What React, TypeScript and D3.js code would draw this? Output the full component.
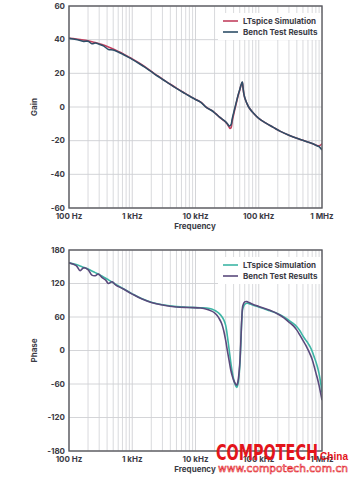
import React from "react";
import * as d3 from "d3";

// ---------- DATA ----------
const gainFreq = [100,130,170,200,230,260,300,350,420,500,600,700,850,1000,1300,1600,2000,2500,3000,4000,5000,6500,8000,10000,12000,15000,18000,21000,24000,27000,30000,32000,34000,35000,36500,38000,41000,44000,47000,50000,52000,54000,55000,56500,58000,60000,64500,70000,82000,100000,130000,170000,220000,300000,400000,500000,650000,800000,900000,1000000];
const gainLTspice = [40.8,40.4,39.8,39.3,38.8,38.3,37.6,36.8,35.6,34.4,33.0,31.8,30.0,28.6,26.0,23.8,21.2,18.6,16.6,13.5,11.2,8.6,6.6,4.6,3.0,-0.3,-2.0,-4.0,-6.0,-7.6,-9.0,-10.3,-12.0,-12.7,-12.3,-8.5,-2.8,2.0,6.5,10.0,12.3,14.0,14.5,11.0,8.0,5.5,2.4,-0.3,-3.6,-6.8,-9.6,-12.1,-14.5,-16.8,-18.6,-19.8,-21.3,-22.6,-23.1,-21.8];
const gainBench = [40.8,40.1,39.0,39.1,37.6,38.0,37.3,36.3,34.2,33.9,32.7,31.5,29.8,28.3,25.7,23.5,21.0,18.4,16.5,13.4,11.1,8.5,6.5,4.5,2.9,-0.4,-2.1,-4.1,-6.0,-7.5,-8.8,-10.0,-11.3,-11.2,-10.5,-7.2,-2.0,2.6,6.9,10.3,12.6,14.3,14.8,11.3,8.2,5.6,2.4,-0.3,-3.6,-6.8,-9.6,-12.1,-14.5,-16.8,-18.6,-19.8,-21.3,-22.7,-23.6,-25.5];

const phaseFreq = [100,130,150,170,200,230,260,290,330,380,420,480,550,700,1000,1400,2000,3000,5000,8000,12000,15000,18000,20000,22000,24000,26000,28000,30000,32000,34000,36000,38000,40000,42000,44000,45000,47000,50000,52000,54000,56000,60000,65000,70000,80000,100000,150000,200000,250000,300000,350000,400000,450000,500000,550000,600000,650000,700000,750000,800000,850000,900000,950000,1000000];
const phaseLTspice = [157,154,151.5,149,146,142.5,139.5,137,133.5,129.5,126.5,122.5,118.5,111.5,101.5,93,86.5,82,78.5,77.2,76.5,76,74.5,72,69,65.5,61,55,45,25,2,-20,-38,-51,-60,-65,-66,-60,-30,10,55,75,82.5,84.5,84,81.5,78,71,66,60,54,48.5,42.5,35,26,19,13,6.5,-1.5,-11,-20,-30,-42,-57,-75];
const phaseBench = [157,152,143,148,145,135,134,137,131,126,120,123,117,111,101,92.5,86,81.5,78,77,76,74,70.5,67.5,62.5,56,48,35,18,-1,-18,-34,-45,-53,-58,-61.5,-62,-55,-25,15,58,80,87,87.6,86,83,79,72,65.5,58.5,51,44.5,36.5,27,18,10,1.5,-7,-16,-28,-40,-51,-63,-76,-89];

const freqTicks = [100, 1000, 10000, 100000, 1000000];
const freqTickLabels = ["100 Hz", "1 kHz", "10 kHz", "100 kHz", "1 MHz"];
const gainTicks = [60, 40, 20, 0, -20, -40, -60];
const phaseTicks = [180, 120, 60, 0, -60, -120, -180];

const gainSeriesNames = ["LTspice Simulation", "Bench Test Results"];
const phaseSeriesNames = ["LTspice Simulation", "Bench Test Results"];

// ---------- STYLE ----------
const W = 356, H = 480;
const FONT = "Inter, 'Open Sans', sans-serif";
const TXT = "#3b3b45";
const GRID = "#cfd0d4";
const FRAME = "#5a5a60";

type PanelProps = {
  top: number; bottom: number; domain: [number, number]; ticks: number[];
  yLabel: string; freq: number[]; s1: number[]; s2: number[];
  c1: string; c2: string; names: string[]; legendY: number; legendBox: [number, number];
};

function Panel(p: PanelProps) {
  const left = 69, right = 322;
  const x = d3.scaleLog().domain([100, 1000000]).range([left, right]);
  const y = d3.scaleLinear().domain(p.domain).range([p.bottom, p.top]);
  const minor: number[] = [];
  for (let dec = 100; dec < 1000000; dec *= 10) for (let k = 2; k <= 9; k++) minor.push(dec * k);
  const line = d3.line<number>().x((_, i) => x(p.freq[i])).y(d => y(d)).curve(d3.curveCatmullRom.alpha(0.5));
  const clipId = "clip" + p.top;
  return (
    <g>
      <defs>
        <clipPath id={clipId}><rect x={left} y={p.top} width={right - left} height={p.bottom - p.top} /></clipPath>
      </defs>
      <rect x={left} y={p.top} width={right - left} height={p.bottom - p.top} fill="#fff" />
      {minor.map(f => <line key={"m" + f} x1={x(f)} x2={x(f)} y1={p.top} y2={p.bottom} stroke={GRID} strokeWidth={0.8} />)}
      {freqTicks.map(f => <line key={"M" + f} x1={x(f)} x2={x(f)} y1={p.top} y2={p.bottom} stroke={GRID} strokeWidth={0.9} />)}
      {p.ticks.map(t => <line key={"h" + t} x1={left} x2={right} y1={y(t)} y2={y(t)} stroke={GRID} strokeWidth={0.9} />)}
      <rect x={p.legendBox[0]} y={p.legendY - 8} width={right - p.legendBox[0]} height={p.legendBox[1]} fill="#fff" />
      <g clipPath={`url(#${clipId})`}>
        <path d={line(p.s1) || ""} fill="none" stroke={p.c1} strokeWidth={1.6} />
        <path d={line(p.s2) || ""} fill="none" stroke={p.c2} strokeWidth={1.6} />
      </g>
      <rect x={left} y={p.top} width={right - left} height={p.bottom - p.top} fill="none" stroke={FRAME} strokeWidth={1.4} />
      {p.ticks.map(t => (
        <text key={"yl" + t} x={65} y={y(t)} dy="0.35em" textAnchor="end" fontSize={8} fontWeight={700} fill={TXT} fontFamily={FONT}>{String(t)}</text>
      ))}
      {freqTicks.map((f, i) => (
        <text key={"xl" + f} x={x(f)} y={p.bottom + 11} textAnchor="middle" fontSize={8} fontWeight={700} fill={TXT} fontFamily={FONT}>{freqTickLabels[i]}</text>
      ))}
      <text x={195} y={p.bottom + 21} textAnchor="middle" fontSize={8} fontWeight={700} fill={TXT} fontFamily={FONT}>Frequency</text>
      <text transform={`translate(37,${(p.top + p.bottom) / 2}) rotate(-90)`} textAnchor="middle" fontSize={8} fontWeight={700} fill={TXT} fontFamily={FONT}>{p.yLabel}</text>
      {p.names.map((n, i) => (
        <g key={n}>
          <line x1={223} x2={238} y1={p.legendY + i * 11} y2={p.legendY + i * 11} stroke={i === 0 ? p.c1 : p.c2} strokeWidth={1.6} />
          <text x={243} y={p.legendY + i * 11} dy="0.35em" fontSize={8} fontWeight={700} fill={TXT} fontFamily={FONT}>{n}</text>
        </g>
      ))}
    </g>
  );
}

export default function App() {
  return (
    <svg width={W} height={H} style={{ position: "absolute", left: 0, top: 0, background: "#fff" }}>
      <rect width={W} height={H} fill="#fff" />
      <Panel top={6} bottom={208} domain={[-60, 60]} ticks={gainTicks} yLabel="Gain"
        freq={gainFreq} s1={gainLTspice} s2={gainBench} c1="#c2405f" c2="#2e4f68"
        names={gainSeriesNames} legendY={21} legendBox={[218, 27]} />
      <Panel top={250} bottom={451} domain={[-180, 180]} ticks={phaseTicks} yLabel="Phase"
        freq={phaseFreq} s1={phaseLTspice} s2={phaseBench} c1="#3db5a5" c2="#5a4a7c"
        names={phaseSeriesNames} legendY={265} legendBox={[218, 27]} />
      <text x={216} y={460} fontSize={21} fontWeight={700} fill="#e3151b" fontFamily="'Liberation Sans Narrow', 'DejaVu Sans Condensed', sans-serif" textLength={102} lengthAdjust="spacingAndGlyphs">COMPOTECH</text>
      <text x={320} y={460} fontSize={10} fontWeight={700} fill="#e3151b" fontFamily="'Liberation Sans', sans-serif" textLength={28} lengthAdjust="spacingAndGlyphs">China</text>
      <text x={218} y={472} fontSize={11} fill="#fff" stroke="#e3151b" strokeWidth={0.6} fontFamily="'DejaVu Sans', sans-serif" textLength={130} lengthAdjust="spacingAndGlyphs">www.compotech.com.cn</text>
    </svg>
  );
}
